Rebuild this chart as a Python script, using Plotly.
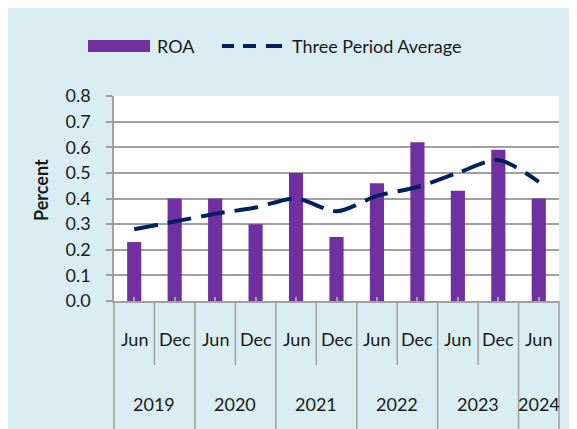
import plotly.graph_objects as go

YEARS = ["2019", "2019", "2020", "2020", "2021", "2021", "2022", "2022", "2023", "2023", "2024"]
PERIODS = ["Jun", "Dec", "Jun", "Dec", "Jun", "Dec", "Jun", "Dec", "Jun", "Dec", "Jun"]
ROA = [0.23, 0.40, 0.40, 0.30, 0.50, 0.25, 0.46, 0.62, 0.43, 0.59, 0.40]
THREE_PERIOD_AVG = [0.28, 0.31, 0.34, 0.365, 0.40, 0.35, 0.41, 0.445, 0.50, 0.55, 0.465]
Y_TICKS = [0.0, 0.1, 0.2, 0.3, 0.4, 0.5, 0.6, 0.7, 0.8]

# page body has an 8px margin; figure fills the rest of the 577x429 window
OFF = 8
W, H = 577 - OFF, 429 - OFF
L_PX, R_PX, T_PX, B_PX = 114, 559, 96, 301          # plot area in window pixels
ML, MR, MT, MB = L_PX - OFF, W - (R_PX - OFF), T_PX - OFF, H - (B_PX - OFF)
PW, PH = W - ML - MR, H - MT - MB

BG = "#DAEDF3"
PURPLE = "#7030A0"
NAVY = "#002060"
GRID = "#A0A0A0"
FONT = "Lato"
FS = 18
TXT = "#1a1a1a"


def px_x(px):
    return (px - OFF - ML) / PW


def px_y(py):
    return (H - MB - (py - OFF)) / PH


cats = [f"{p} {y}" for p, y in zip(PERIODS, YEARS)]
N = len(cats)

fig = go.Figure()
fig.add_trace(go.Bar(x=cats, y=ROA, marker=dict(color=PURPLE, line=dict(width=0)),
                     name="ROA", showlegend=False))
fig.add_trace(go.Scatter(x=cats, y=THREE_PERIOD_AVG, mode="lines", name="Three Period Average",
                         line=dict(color=NAVY, width=4, dash="24px,10px", shape="spline", smoothing=0.8),
                         showlegend=False))

shapes = []
annotations = []

# category dividers
for k in range(N + 1):
    is_year_edge = k == 0 or k == N or YEARS[k] != YEARS[k - 1]
    yb = 429 if is_year_edge else 365
    shapes.append(dict(type="line", xref="paper", yref="paper", x0=k / N, x1=k / N,
                       y0=0, y1=px_y(yb), line=dict(color=GRID, width=1.5)))

# period labels
for i, p in enumerate(PERIODS):
    annotations.append(dict(xref="paper", yref="paper", x=(i + 0.5) / N, y=px_y(339), text=p,
                            showarrow=False, font=dict(family=FONT, size=FS, color=TXT),
                            xanchor="center", yanchor="middle"))

# year labels
groups = []
for i, y in enumerate(YEARS):
    if groups and groups[-1][0] == y:
        groups[-1][1].append(i)
    else:
        groups.append((y, [i]))
for y, idx in groups:
    c = (sum(idx) / len(idx) + 0.5) / N
    annotations.append(dict(xref="paper", yref="paper", x=c, y=px_y(404), text=y,
                            showarrow=False, font=dict(family=FONT, size=FS, color=TXT),
                            xanchor="center", yanchor="middle"))

# y axis title
annotations.append(dict(xref="paper", yref="paper", x=px_x(41), y=px_y(190), text="<b>Percent</b>",
                        textangle=-90, showarrow=False, font=dict(family=FONT, size=FS, color=TXT),
                        xanchor="center", yanchor="middle"))

# custom legend
shapes.append(dict(type="rect", xref="paper", yref="paper", x0=px_x(88), x1=px_x(150),
                   y0=px_y(52), y1=px_y(40), fillcolor=PURPLE, line=dict(width=0)))
annotations.append(dict(xref="paper", yref="paper", x=px_x(155), y=px_y(46), text="ROA",
                        showarrow=False, font=dict(family=FONT, size=FS, color=TXT),
                        xanchor="left", yanchor="middle"))
for a, b in [(222, 234), (243, 256), (266, 282)]:
    shapes.append(dict(type="line", xref="paper", yref="paper", x0=px_x(a), x1=px_x(b),
                       y0=px_y(46), y1=px_y(46), line=dict(color=NAVY, width=4)))
annotations.append(dict(xref="paper", yref="paper", x=px_x(290), y=px_y(46), text="Three Period Average",
                        showarrow=False, font=dict(family=FONT, size=FS, color=TXT),
                        xanchor="left", yanchor="middle"))

fig.update_layout(
    width=W, height=H,
    margin=dict(l=ML, r=MR, t=MT, b=MB, pad=0),
    paper_bgcolor=BG, plot_bgcolor="white",
    bargap=0.65,
    showlegend=False,
    shapes=shapes, annotations=annotations,
    font=dict(family=FONT, size=FS, color=TXT),
    xaxis=dict(type="category", showticklabels=False, ticks="inside", ticklen=4, tickcolor=GRID,
               tickwidth=1.5, showgrid=False, showline=True, linecolor=GRID, linewidth=1.5,
               range=[-0.5, N - 0.5], fixedrange=True),
    yaxis=dict(range=[0, 0.8], tickvals=Y_TICKS, tickformat=".1f", ticks="outside", ticklen=6,
               tickcolor=GRID, tickwidth=1.5, showgrid=True, gridcolor=GRID, gridwidth=1.5,
               showline=True, linecolor=GRID, linewidth=1.5, zeroline=False, ticklabelstandoff=12,
               tickfont=dict(family=FONT, size=FS, color=TXT), fixedrange=True),
)

fig.write_html("out.html")
